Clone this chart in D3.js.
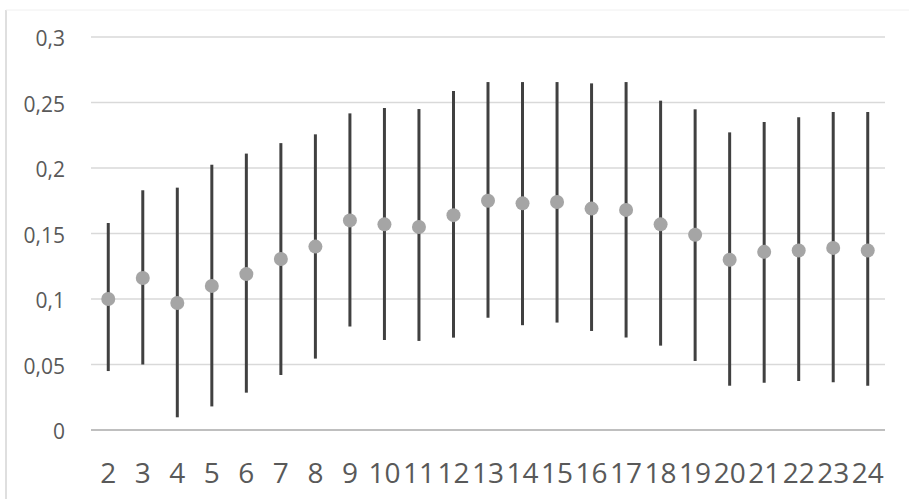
<!DOCTYPE html>
<html>
<head>
<meta charset="utf-8">
<script src="https://cdn.jsdelivr.net/npm/d3@7"></script>
<style>
  html, body { margin: 0; padding: 0; background: #fff; }
  svg { display: block; }
  .tickLabel { font-family: "Open Sans", sans-serif; fill: #595959; }
</style>
</head>
<body>
<div id="chart"></div>
<script>
  // categories on the x axis
  const categories = ["2", "3", "4", "5", "6", "7", "8", "9", "10", "11", "12", "13",
    "14", "15", "16", "17", "18", "19", "20", "21", "22", "23", "24"];
  // mean values (dots)
  const means = [0.100, 0.116, 0.097, 0.110, 0.119, 0.1305, 0.140, 0.160, 0.157, 0.155,
    0.164, 0.175, 0.173, 0.174, 0.169, 0.168, 0.157, 0.149, 0.130, 0.136, 0.137, 0.139, 0.137];
  // upper end of each range line
  const highs = [0.158, 0.183, 0.185, 0.2025, 0.211, 0.219, 0.2257, 0.2417, 0.2458, 0.245,
    0.2588, 0.2656, 0.2656, 0.2656, 0.2646, 0.2656, 0.2514, 0.2448, 0.2272, 0.2351, 0.2387, 0.2427, 0.2427];
  // lower end of each range line
  const lows = [0.045, 0.050, 0.0097, 0.018, 0.0285, 0.042, 0.0545, 0.079, 0.0687, 0.068,
    0.0705, 0.0857, 0.080, 0.082, 0.0756, 0.0706, 0.0644, 0.0527, 0.0338, 0.0361, 0.0374, 0.0364, 0.0338];
  const yTicks = [0, 0.05, 0.1, 0.15, 0.2, 0.25, 0.3];
  const yTickLabels = ["0", "0,05", "0,1", "0,15", "0,2", "0,25", "0,3"];

  const svgWidth = 909, svgHeight = 499;
  const margin = { top: 37, left: 91, right: 24, bottom: 69 };
  const width = svgWidth - margin.left - margin.right,
    height = svgHeight - margin.top - margin.bottom;

  const svg = d3.select("#chart").append("svg")
    .attr("width", svgWidth)
    .attr("height", svgHeight);

  // chart frame (only left and top edges visible)
  svg.append("line")
    .attr("x1", 6).attr("x2", 6).attr("y1", 10).attr("y2", svgHeight)
    .attr("stroke", "#d4d4d4").attr("stroke-width", 1.5);
  svg.append("line")
    .attr("x1", 6).attr("x2", svgWidth).attr("y1", 10).attr("y2", 10)
    .attr("stroke", "#f0f0f0").attr("stroke-width", 1);

  const g = svg.append("g")
    .attr("transform", "translate(" + margin.left + "," + margin.top + ")");

  const x = d3.scaleBand().domain(categories).range([0, width]);
  const y = d3.scaleLinear().domain([0, 0.3]).range([height, 0]);

  // gridlines
  g.selectAll(".grid")
    .data(yTicks.filter((d) => d > 0))
    .enter().append("line")
    .attr("class", "grid")
    .attr("x1", 0).attr("x2", width)
    .attr("y1", (d) => y(d)).attr("y2", (d) => y(d))
    .attr("stroke", "#d9d9d9").attr("stroke-width", 1.5);

  // baseline axis
  g.append("line")
    .attr("x1", 0).attr("x2", width)
    .attr("y1", y(0)).attr("y2", y(0))
    .attr("stroke", "#bfbfbf").attr("stroke-width", 2);

  // y tick labels
  g.selectAll(".yLabel")
    .data(yTicks)
    .enter().append("text")
    .attr("class", "tickLabel yLabel")
    .attr("x", -26)
    .attr("y", (d) => y(d) + 2)
    .attr("dy", "0.35em")
    .attr("text-anchor", "end")
    .style("font-size", "21px")
    .text((d, i) => yTickLabels[i]);

  // x tick labels
  g.selectAll(".xLabel")
    .data(categories)
    .enter().append("text")
    .attr("class", "tickLabel xLabel")
    .attr("x", (d) => x(d) + x.bandwidth() / 2)
    .attr("y", height + 53)
    .attr("text-anchor", "middle")
    .style("font-size", "28px")
    .text((d) => d);

  // range lines
  g.selectAll(".range")
    .data(categories)
    .enter().append("line")
    .attr("class", "range")
    .attr("x1", (d) => x(d) + x.bandwidth() / 2)
    .attr("x2", (d) => x(d) + x.bandwidth() / 2)
    .attr("y1", (d, i) => y(lows[i]))
    .attr("y2", (d, i) => y(highs[i]))
    .attr("stroke", "#404040").attr("stroke-width", 3);

  // mean dots
  g.selectAll(".dot")
    .data(categories)
    .enter().append("circle")
    .attr("class", "dot")
    .attr("cx", (d) => x(d) + x.bandwidth() / 2)
    .attr("cy", (d, i) => y(means[i]))
    .attr("r", 7)
    .attr("fill", "#a5a5a5");
</script>
</body>
</html>
